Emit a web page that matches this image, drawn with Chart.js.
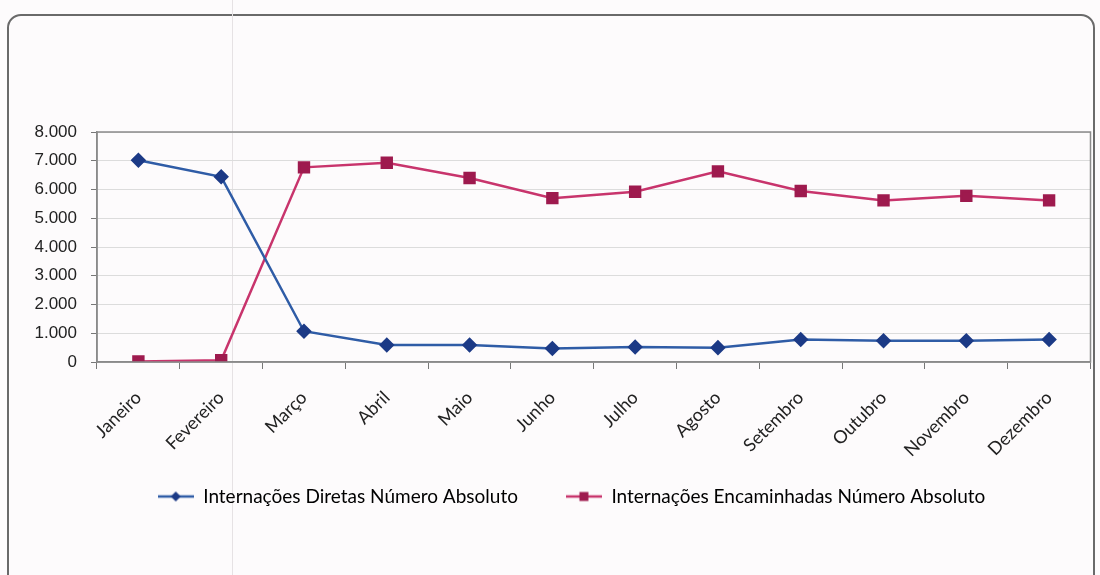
<!DOCTYPE html>
<html>
<head>
<meta charset="utf-8">
<script src="https://cdn.jsdelivr.net/npm/chart.js@4.4.1/dist/chart.umd.min.js"></script>
<style>
  body { margin: 0; background: #fdfbfc; }
  #wrap { position: relative; width: 1100px; height: 575px; overflow: hidden; }
  #frame {
    position: absolute; left: 7px; top: 14px; width: 1088px; height: 620px;
    border: 2px solid #6a6a6a; border-radius: 14px; box-sizing: border-box;
  }
  #risco { position: absolute; left: 232px; top: 0; width: 1px; height: 575px; background: #e6e2e4; }
  #box { position: absolute; left: 0; top: 0; width: 1100px; height: 575px; }
</style>
</head>
<body>
<div id="wrap">
  <div id="frame"></div>
  <div id="risco"></div>
  <div id="box"><canvas id="chart"></canvas></div>
</div>
<script>
const meses = ['Janeiro', 'Fevereiro', 'Março', 'Abril', 'Maio', 'Junho', 'Julho', 'Agosto', 'Setembro', 'Outubro', 'Novembro', 'Dezembro'];
const diretas = [7020, 6440, 1070, 590, 590, 470, 520, 500, 780, 740, 740, 780];
const encaminhadas = [20, 60, 6770, 6930, 6400, 5700, 5920, 6630, 5950, 5620, 5780, 5620];
const yTicks = [0, 1000, 2000, 3000, 4000, 5000, 6000, 7000, 8000];

const azulLinha = '#2f5ca6';
const azulPonto = '#1c3a86';
const vermLinha = '#c8346c';
const vermPonto = '#9e1a4e';

// formato 8.000
function milhar(v) {
  return String(v).replace(/\B(?=(\d{3})+(?!\d))/g, '.');
}

// icone da legenda: linha com marcador
function icone(cor, corPonto, tipo) {
  const c = document.createElement('canvas');
  c.width = 36; c.height = 14;
  const g = c.getContext('2d');
  g.strokeStyle = cor; g.lineWidth = 2.5;
  g.beginPath(); g.moveTo(0, 7); g.lineTo(36, 7); g.stroke();
  g.fillStyle = corPonto;
  g.beginPath();
  if (tipo == 'diamante') {
    g.moveTo(18, 2); g.lineTo(23, 7); g.lineTo(18, 12); g.lineTo(13, 7);
  } else {
    g.rect(13.5, 2.5, 9, 9);
  }
  g.closePath(); g.fill();
  return c;
}
const icones = [icone(azulLinha, azulPonto, 'diamante'), icone(vermLinha, vermPonto, 'quadrado')];

// borda da area do grafico
const moldura = {
  id: 'moldura',
  afterDraw(chart) {
    const a = chart.chartArea, ctx = chart.ctx;
    ctx.save();
    ctx.strokeStyle = '#8a8a8a';
    ctx.lineWidth = 1.5;
    ctx.strokeRect(a.left, a.top, a.right - a.left, a.bottom - a.top);
    ctx.restore();
  }
};

// sobe a legenda para perto dos rotulos do eixo
const subirLegenda = {
  id: 'subirLegenda',
  afterLayout(chart) {
    const lg = chart.legend;
    if (!lg) return;
    lg.top -= 28; lg.bottom -= 28;
    lg.left += 22; lg.right += 22;
  }
};

new Chart(document.getElementById('chart'), {
  type: 'line',
  data: {
    labels: meses,
    datasets: [{
      label: 'Internações Diretas Número Absoluto',
      data: diretas,
      borderColor: azulLinha,
      borderWidth: 2.5,
      pointStyle: 'rectRot',
      pointRadius: 6,
      pointBackgroundColor: azulPonto,
      pointBorderColor: azulPonto,
      tension: 0
    }, {
      label: 'Internações Encaminhadas Número Absoluto',
      data: encaminhadas,
      borderColor: vermLinha,
      borderWidth: 2.5,
      pointStyle: 'rect',
      pointRadius: 7,
      pointBackgroundColor: vermPonto,
      pointBorderColor: vermPonto,
      tension: 0
    }]
  },
  options: {
    responsive: true,
    maintainAspectRatio: false,
    animation: false,
    layout: { padding: { left: 8, right: 9, top: 132, bottom: 31 } },
    plugins: {
      tooltip: { enabled: false },
      legend: {
        position: 'bottom',
        labels: {
          usePointStyle: true,
          pointStyleWidth: 36,
          boxHeight: 14,
          padding: 48,
          color: '#222',
          font: { family: 'Lato', size: 19 },
          generateLabels(chart) {
            return chart.data.datasets.map((d, i) => ({
              text: d.label,
              pointStyle: icones[i],
              fillStyle: d.borderColor,
              strokeStyle: d.borderColor,
              lineWidth: 0,
              datasetIndex: i,
              hidden: false
            }));
          }
        }
      }
    },
    scales: {
      x: {
        offset: true,
        grid: { display: true, offset: true, drawOnChartArea: false, drawTicks: true, tickLength: 7, color: '#777' },
        border: { color: '#8a8a8a', width: 1.5 },
        ticks: {
          maxRotation: 45, minRotation: 45, autoSkip: false,
          color: '#222', font: { family: 'Lato', size: 18 }, padding: 18
        },
        afterFit(scale) { scale.height = 105; }
      },
      y: {
        min: 0, max: 8000,
        afterBuildTicks(scale) { scale.ticks = yTicks.map(v => ({ value: v })); },
        grid: { color: '#dcdcdc', tickLength: 6, tickColor: '#777' },
        border: { color: '#8a8a8a', width: 1.5 },
        ticks: {
          color: '#222', font: { family: 'Liberation Sans', size: 17 }, padding: 14,
          callback: v => milhar(v)
        },
        afterFit(scale) { scale.width = 89; }
      }
    }
  },
  plugins: [moldura, subirLegenda]
});
</script>
</body>
</html>
